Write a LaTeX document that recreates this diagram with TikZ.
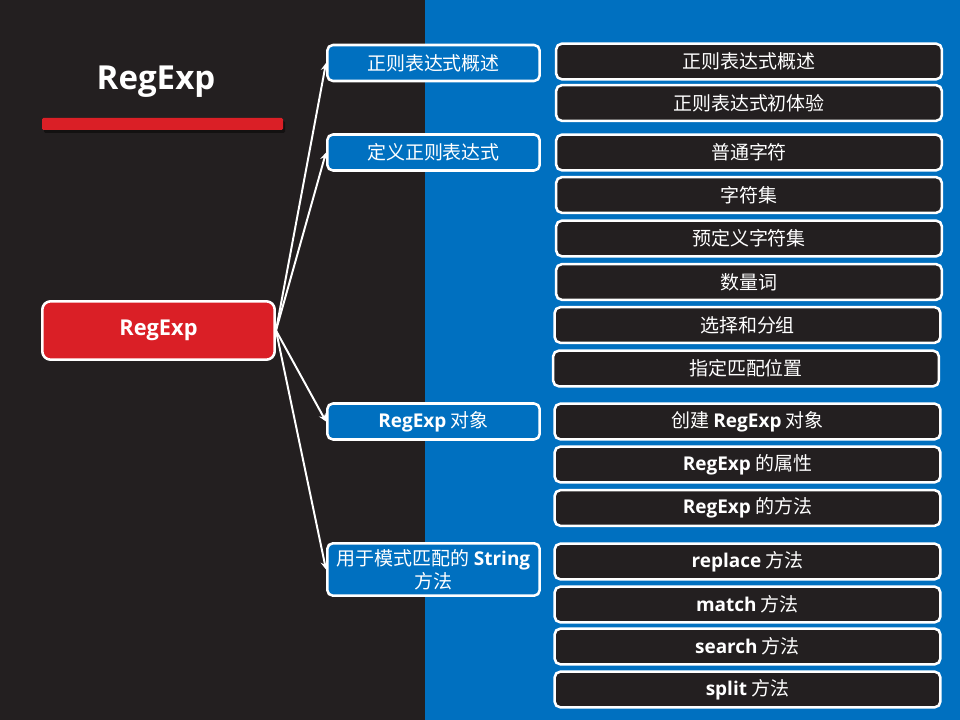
\documentclass[tikz,border=0pt]{standalone}
\usepackage{fontspec}
\setmainfont{Noto Sans CJK SC}
\newfontfamily\enfont{Open Sans}
\newcommand\en[1]{{\enfont\bfseries #1}}
\newcommand\fs{\fontsize{13.5}{16.4}\selectfont}
\definecolor{dark}{HTML}{231F20}
\definecolor{blu}{HTML}{0070C0}
\definecolor{rd}{HTML}{DA1F26}
\begin{document}
\begin{tikzpicture}[x=.025cm, y=-.025cm, line join=round, line cap=round, >=stealth,
	box/.style={draw=white, line width=1.8pt, rounded corners=4pt, text=white, inner sep=0pt, font=\fs},
	lvone/.style={box, fill=blu, minimum width=5.31cm, minimum height=.9cm, align=center},
	lvtwo/.style={box, fill=dark, minimum width=9.64cm, minimum height=.89cm}]
	\useasboundingbox (0,0) rectangle (960,720);
	\fill[dark](0,0)rectangle(425,720);
	\fill[blu](425,0)rectangle(960,720);
	% title and bar
	\node[text=white, font=\fontsize{23.5}{28}\selectfont] (title) at (156,82) {\en{RegExp}};
	\fill[black, opacity=.45, rounded corners=1pt](44,121)rectangle(285,133);
	\fill[rd, rounded corners=1pt](42,118)rectangle(283,130);
	% root
	\node[box, fill=rd, minimum width=5.81cm, minimum height=1.46cm, rounded corners=6pt, font=\fontsize{15.5}{18}\selectfont] (root) at (158.5,330.5) {\en{RegExp}};
	% first level
	\node[lvone] (a) at (433.5,63) {正则表达式概述};
	\node[lvone] (b) at (433.5,152.5) {定义正则表达式};
	\node[lvone] (c) at (433.5,421.5) {\en{RegExp} 对象};
	\node[lvone, minimum height=1.31cm] (d) at (433.5,569.5) {用于模式匹配的 \en{String}\\方法};
	\foreach \n in {a,b,c,d}\draw[->, white, line width=1.4pt](root.east)--(\n.west);
	% second level
	\foreach \x/\y/\t [count=\i] in {749/61.5/正则表达式概述, 749/103/正则表达式初体验, 749/152.5/普通字符, 749/195/字符集, 749/238.5/预定义字符集, 749/282/数量词, 747.5/325/选择和分组, 746/368.5/指定匹配位置, 747.5/421.5/创建 \en{RegExp} 对象, 747.5/464.5/\en{RegExp} 的属性, 747.5/508/\en{RegExp} 的方法, 747.5/561.5/\en{replace} 方法, 747.5/604.5/\en{match} 方法, 747.5/646.5/\en{search} 方法, 747.5/689.5/\en{split} 方法}
		\node[lvtwo] (s\i) at (\x,\y) {\t};
\end{tikzpicture}
\end{document}
